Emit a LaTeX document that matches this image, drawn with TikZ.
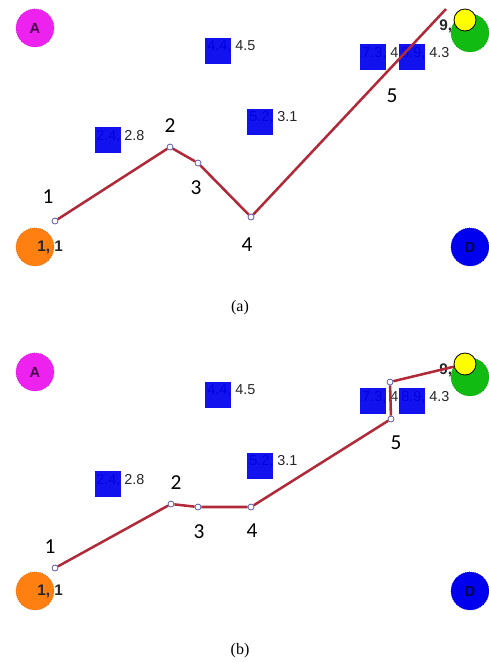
\documentclass[tikz,border=0pt]{standalone}
\usepackage{fontspec}
\setmainfont{Liberation Serif}
\setsansfont{Liberation Sans}
\newfontfamily\stepfont{Carlito}

\definecolor{zonemag}{HTML}{EE22EE}
\definecolor{zoneorg}{HTML}{FF8010}
\definecolor{zonegrn}{HTML}{11BB11}
\definecolor{zoneblu}{HTML}{0000EE}
\definecolor{goalyel}{HTML}{FFFF00}
\definecolor{routered}{HTML}{B02A3A}
\definecolor{markblu}{HTML}{5A5AA8}

% objects shared by both panels
\newcommand{\pitchobjects}{
  \node[zone, fill=zonemag, draw=zonemag!80!black, text=violet!60!black] at (35,28) (A) {A};
  \node[zone, fill=zoneorg, draw=zoneorg!80!black] at (35,247) (S) {};
  \node[zone, fill=zoneblu, draw=zoneblu!80!black, text=blue!30!black] at (470,247) (D) {D};
  \node[zone, fill=zonegrn, draw=zonegrn!80!black] at (470,33) (G) {};
  \node[coordtext, font=\sffamily\bfseries\fontsize{11.5}{11.5}\selectfont] at (37,247) (S-lbl) {1, 1};
  \node[coordtext, font=\sffamily\bfseries\fontsize{11.5}{11.5}\selectfont] at (439,26) (G-lbl) {9,};
  \node[circle, draw=black, fill=goalyel, minimum size=16.5pt, inner sep=0pt, line width=0.6pt] at (465,20) (Y) {};

  \node[coordtext] at (207,46) (o1-lbl) {4.4, 4.5};
  \node[obstacle] at (218,51) (o1) {};
  \node[coordtext] at (96,136) (o2-lbl) {2.4, 2.8};
  \node[obstacle] at (108,140) (o2) {};
  \node[coordtext] at (249,117) (o3-lbl) {5.2, 3.1};
  \node[obstacle] at (260,122) (o3) {};
  \node[coordtext] at (362,53) (o4-lbl) {7.3, 4};
  \node[obstacle] at (373,57) (o4) {};
  \node[coordtext] at (401,53) (o5-lbl) {8.9, 4.3};
  \node[obstacle] at (412,57) (o5) {};
}

\begin{document}
\begin{tikzpicture}[x=0.75pt, y=-0.75pt,
  zone/.style={circle, minimum size=28.5pt, inner sep=0pt, densely dotted, line width=0.5pt, font=\sffamily\bfseries\fontsize{11}{11}\selectfont},
  obstacle/.style={fill=zoneblu, fill opacity=0.93, minimum size=19.5pt, inner sep=0pt},
  coordtext/.style={anchor=west, inner sep=0pt, text=black!85, font=\sffamily\fontsize{10.8}{10.8}\selectfont},
  waypt/.style={circle, draw=markblu, fill=white, minimum size=4.5pt, inner sep=0pt, line width=0.6pt},
  route/.style={routered, line width=1.9pt, line join=round},
  steplabel/.style={inner sep=0pt, font=\stepfont\fontsize{16}{16}\selectfont},
  caption/.style={inner sep=0pt, font=\fontsize{12}{12}\selectfont}]
\useasboundingbox (0,0) rectangle (489,662);

% (a)
\begin{scope}[name prefix=a-]
\pitchobjects
\node[waypt] at (55,221) (p1) {};
\node[waypt] at (170,147) (p2) {};
\node[waypt] at (198,163) (p3) {};
\node[waypt] at (251,217) (p4) {};
\coordinate (p5) at (446,9);
\draw[route] (p1) -- (p2) -- (p3) -- (p4) -- (p5);

\node[steplabel] at (48,197) (n1) {1};
\node[steplabel] at (170,126) (n2) {2};
\node[steplabel] at (196,188) (n3) {3};
\node[steplabel] at (247,245) (n4) {4};
\node[steplabel] at (392,96) (n5) {5};
\node[caption] at (240,308) (cap) {(a)};
\end{scope}

% (b)
\begin{scope}[shift={(0,344)}, name prefix=b-]
\pitchobjects
\node[waypt] at (55,224) (p1) {};
\node[waypt] at (171,160) (p2) {};
\node[waypt] at (198,163) (p3) {};
\node[waypt] at (251,163) (p4) {};
\node[waypt] at (391,75) (p5) {};
\node[waypt] at (390,38) (p6) {};
\draw[route] (p1) -- (p2) -- (p3) -- (p4) -- (p5) -- (p6) -- (Y);

\node[steplabel] at (50,203) (n1) {1};
\node[steplabel] at (176,139) (n2) {2};
\node[steplabel] at (199,188) (n3) {3};
\node[steplabel] at (252,187) (n4) {4};
\node[steplabel] at (396,99) (n5) {5};
\node[caption] at (240,307) (cap) {(b)};
\end{scope}
\end{tikzpicture}
\end{document}
